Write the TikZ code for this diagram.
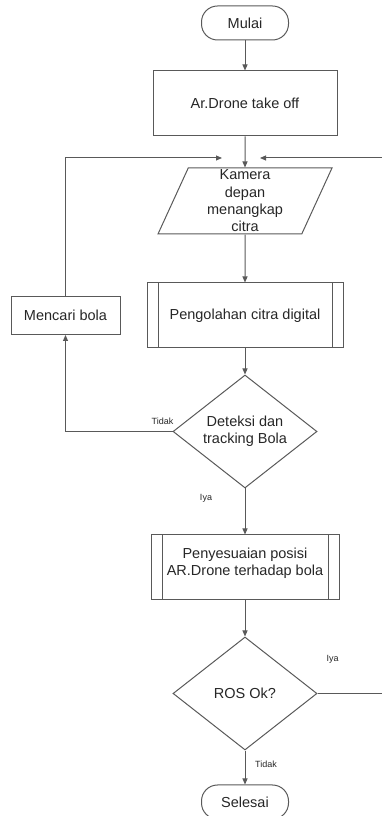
\documentclass[tikz,border=0pt]{standalone}
\usepackage{fontspec}
\setmainfont{Liberation Sans}
\usetikzlibrary{arrows.meta,shapes.geometric}

\begin{document}
\begin{tikzpicture}[x=1pt,y=1pt,->,>={Triangle[length=6pt,width=5pt]},
  line width=1pt,color=black!65,text=black!85,
  font=\fontsize{14.5}{17.3}\selectfont,
  term/.style={rectangle,rounded corners=16pt,draw,minimum width=87pt,minimum height=34pt},
  proc/.style={rectangle,draw,minimum height=65pt},
  sub/.style={proc,path picture={
      \draw[-,line width=1pt] ([xshift=11pt]path picture bounding box.north west) -- ([xshift=11pt]path picture bounding box.south west);
      \draw[-,line width=1pt] ([xshift=-11pt]path picture bounding box.north east) -- ([xshift=-11pt]path picture bounding box.south east);}},
  io/.style={trapezium,trapezium left angle=64,trapezium right angle=116,trapezium stretches body,
    draw,inner sep=0pt,minimum width=174pt,minimum height=66pt,text width=80pt,align=center},
  dec/.style={diamond,draw,aspect=1.27,inner sep=0pt,minimum width=144pt,minimum height=113pt,align=center},
  lbl/.style={font=\fontsize{9}{11}\selectfont}]
  \useasboundingbox (0,0) rectangle (382,816);
  \node[term] (mulai) at (245,793) {Mulai};
  \node[proc,minimum width=184pt] (takeoff) [below of=mulai,node distance=80.5pt] {Ar.Drone take off};
  \node[io] (kamera) [below of=takeoff,node distance=97.5pt] {Kamera\\depan\\menangkap\\citra};
  \node[sub,minimum width=196pt] (olah) [below of=kamera,node distance=114.5pt] {Pengolahan citra digital};
  \node[dec] (deteksi) [below of=olah,node distance=116pt] {Deteksi dan\\tracking Bola};
  \node[sub,minimum width=188pt,align=center] (sesuai) [below of=deteksi,node distance=136pt]
    {Penyesuaian posisi\\AR.Drone terhadap bola\\[-5.3pt]\mbox{}};
  \node[dec] (ros) [below of=sesuai,node distance=126pt] {ROS Ok?};
  \node[term] (selesai) [below of=ros,node distance=108.5pt] {Selesai};
  \node[proc,minimum width=109pt,minimum height=38pt] (mencari) [left of=olah,node distance=179.5pt] {Mencari bola};
  % ujung panah loop
  \coordinate (loopL) at (222,658);
  \coordinate (loopR) at (260,658);
  \coordinate (railTop) at (388,658);
  % label
  \node[lbl] (tidak1) at ([xshift=-10pt,yshift=10.5pt]deteksi.west) {Tidak};
  \node[lbl] (iya1) at ([xshift=-39pt,yshift=-10pt]deteksi.south) {Iya};
  \node[lbl] (iya2) at ([xshift=15pt,yshift=34pt]ros.east) {Iya};
  \node[lbl] (tidak2) at ([xshift=21pt,yshift=-14pt]ros.south) {Tidak};
  \path
  (mulai) edge (takeoff)
  (takeoff) edge (kamera)
  (kamera) edge (olah)
  (olah) edge (deteksi)
  (deteksi) edge (sesuai)
  (sesuai) edge (ros)
  (ros) edge (selesai);
  \draw (deteksi.west) -| (mencari.south);
  \draw (mencari.north) |- (loopL);
  \draw (ros.east) -| (railTop) -- (loopR);
\end{tikzpicture}
\end{document}
